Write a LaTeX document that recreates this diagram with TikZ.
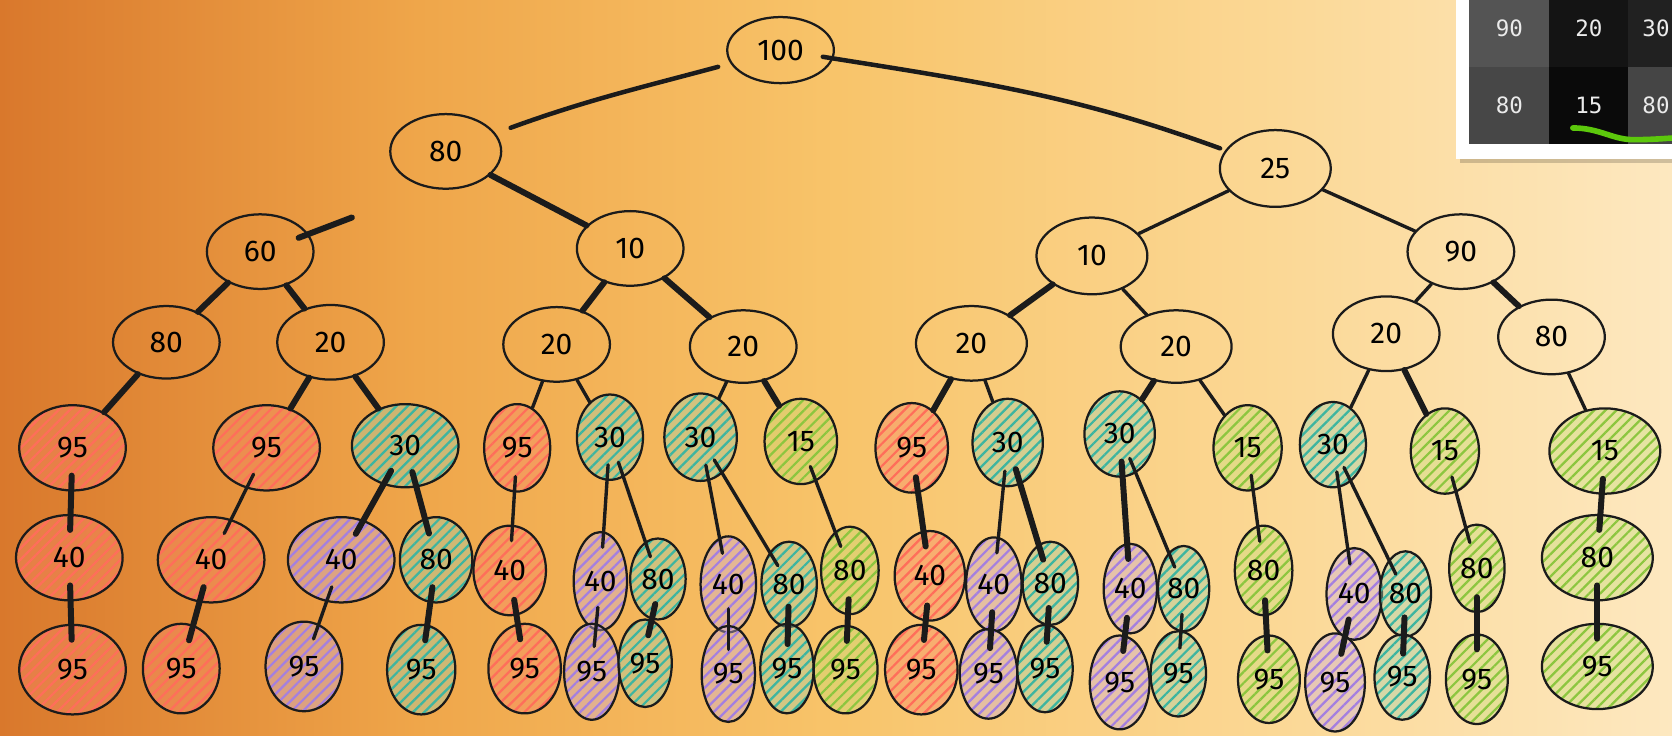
\documentclass[tikz,border=0pt]{standalone}
\usepackage{fontspec}
\newfontfamily\handfont{Fira Sans}
\newfontfamily\cellfont{DejaVu Sans Mono}
\usetikzlibrary{shapes.geometric,patterns.meta}
\definecolor{Ink}{HTML}{1B1B1B}
\definecolor{SkyA}{HTML}{D9782C}
\definecolor{SkyB}{HTML}{EFA64A}
\definecolor{SkyC}{HTML}{F8C46A}
\definecolor{SkyD}{HTML}{FBD793}
\definecolor{SkyE}{HTML}{FDE8C0}
\definecolor{PeachHatch}{HTML}{FF6E5A}
\definecolor{PeachTint}{HTML}{F7876A}
\definecolor{SeaHatch}{HTML}{3DB5A0}
\definecolor{SeaTint}{HTML}{9ED2B0}
\definecolor{LilacHatch}{HTML}{A47FE0}
\definecolor{LilacTint}{HTML}{C9AEDF}
\definecolor{LimeHatch}{HTML}{8CC63F}
\definecolor{LimeTint}{HTML}{C5E07A}
\definecolor{MarkGreen}{HTML}{5CC80C}
% only 25bp--75bp of a shading ends up on the path
\pgfdeclarehorizontalshading{warmsky}{100bp}{color(0bp)=(SkyA); color(25bp)=(SkyA); color(37.5bp)=(SkyB); color(50bp)=(SkyC); color(62.5bp)=(SkyD); color(75bp)=(SkyE); color(100bp)=(SkyE)}

\begin{document}
\begin{tikzpicture}[
		x=0.1mm, y=-0.1mm,
		font=\handfont\fontsize{8}{9}\selectfont,
		plain/.style={ellipse,draw=Ink,line width=0.6pt,inner sep=0pt,text=Ink},
		hatch/.style={plain,preaction={fill=#1Tint,fill opacity=0.4},pattern={Lines[angle=45,distance=2.1pt,line width=0.6pt]},pattern color=#1Hatch},
		edge/.style={draw=Ink,line width=0.9pt,line cap=round},
		heavy/.style={edge,line width=1.6pt},
		deep/.style={shorten <=-1.5mm,shorten >=-1.5mm},
		cell/.style={minimum height=7.3mm,inner sep=0pt,text=white!92!black,font=\cellfont\fontsize{6}{7}\selectfont}
	]
	\useasboundingbox (0,0) rectangle (1568,690);
	\clip (0,0) rectangle (1568,690);
	\shade[shading=warmsky] (0,0) rectangle (1568,690);

	% upper levels, outline only
	\foreach \id/\x/\y/\w/\h/\v in {root/732/47/10/6.2/100,
			b1/418/142/10.4/7/80, b2/1196/158/10.4/7.2/25,
			c1/244/236/10/7/60, c2/591/233/10/7/10, c3/1024/240/10.4/7.2/10, c4/1370/236/10/7/90,
			d1/156/321/10/6.8/80, d2/310/321/10/7/20, d3/522/323/10/7/20, d4/697/325/10/6.8/20,
			d5/911/322/10.4/7/20, d6/1103/325/10.4/6.8/20, d7/1300/313/10/7/20, d8/1455/316/10/7/80}
		\node[plain,minimum width=\w mm,minimum height=\h mm,label=center:\v] (\id) at (\x,\y) {};

	% hatched levels
	\foreach \id/\x/\y/\w/\h/\c/\v in {e1/68/420/10/8/Peach/95, e2/250/420/10/8/Peach/95,
			e3/380/418/10/7.8/Sea/30, e4/485/420/6.2/8.2/Peach/95, e5/572/410/6.2/8/Sea/30,
			e6/657/410/6.8/8.2/Sea/30, e7/751/414/6.8/8/Lime/15, e8/855/420/6.8/8.4/Peach/95,
			e9/945/415/6.6/8.2/Sea/30, e10/1050/407/6.6/8/Sea/30, e11/1170/420/6.4/8/Lime/15,
			e12/1250/417/6.2/8/Sea/30, e13/1355/423/6.4/8/Lime/15, e14/1505/423/10.4/8/Lime/15,
			f1/65/523/10/8/Peach/40, f2/198/525/10/8/Peach/40, f3/320/525/10/8/Lilac/40,
			f4/409/525/6.8/8/Sea/80, f5/478/535/6.8/8.4/Peach/40, f6/563/545/5/9.2/Lilac/40,
			f7/617/543/5.2/7.6/Sea/80, f8/683/548/5.2/9/Lilac/40, f9/740/548/5.2/8/Sea/80,
			f10/797/535/5.4/8.2/Lime/80, f11/872/540/6.6/8.4/Peach/40, f12/932/548/5.2/8.8/Lilac/40,
			f13/985/547/5.2/7.8/Sea/80, f14/1060/552/5/8.4/Lilac/40, f15/1110/552/4.8/8/Sea/80,
			f16/1185/535/5.4/8.4/Lime/80, f17/1270/557/5.2/8.6/Lilac/40, f18/1318/557/4.8/8/Sea/80,
			f19/1385/533/5.2/8.2/Lime/80, f20/1498/523/10.4/8/Lime/80,
			g1/68/628/10/8.4/Peach/95, g2/170/627/7.2/8.4/Peach/95, g3/285/625/7.2/8.4/Lilac/95,
			g4/395/628/6.4/8.4/Sea/95, g5/492/627/6.8/8.4/Peach/95, g6/555/630/5.2/9/Lilac/95,
			g7/605/622/5/8.2/Sea/95, g8/683/632/5/9/Lilac/95, g9/738/627/5/8.4/Sea/95,
			g10/793/628/6/8.2/Lime/95, g11/864/628/6.8/8.4/Peach/95, g12/927/632/5.4/8.4/Lilac/95,
			g13/980/627/5.2/8.2/Sea/95, g14/1050/640/5.6/8.8/Lilac/95, g15/1105/632/5.2/8/Sea/95,
			g16/1190/637/5.8/8.2/Lime/95, g17/1252/640/5.6/9.2/Lilac/95, g18/1315/635/5.2/8/Sea/95,
			g19/1385/637/5.8/8.4/Lime/95, g20/1498/625/10.4/8/Lime/95}
		\node[hatch=\c,minimum width=\w mm,minimum height=\h mm,label=center:\v] (\id) at (\x,\y) {};

	% links
	\draw[edge,line width=1.2pt,shorten <=1.2mm,shorten >=1.5mm] (root) to[out=195,in=20] (b1);
	\draw[edge,line width=1.2pt,shorten <=-1mm,shorten >=0.5mm] (root) to[out=-9,in=160] (b2);
	\coordinate (c1tip) at (330,204);
	\draw[heavy,shorten <=-1mm] (c1.20) -- (c1tip);
	\foreach \p/\c in {b1/c2, c2/d3, c2/d4, c3/d5, c4/d8, c1/d1, c1/d2, d1/e1, d2/e2, d2/e3,
			d4/e7, d5/e8, d6/e10, d7/e13}
		\draw[heavy] (\p) -- (\c);
	\foreach \p/\c in {b2/c3, b2/c4, c3/d6, c4/d7, d3/e4, d3/e5, d4/e6, d5/e9, d6/e11, d7/e12, d8/e14}
		\draw[edge] (\p) -- (\c);
	\foreach \p/\c in {e1/f1, e3/f3, e3/f4, e8/f11, e9/f13, e10/f14, e14/f20,
			f1/g1, f2/g2, f4/g4, f5/g5, f7/g7, f9/g9, f10/g10, f11/g11, f12/g12, f13/g13,
			f14/g14, f16/g16, f17/g17, f18/g18, f19/g19, f20/g20}
		\draw[heavy,deep] (\p) -- (\c);
	\foreach \p/\c in {e2/f2, e4/f5, e5/f6, e5/f7, e6/f8, e6/f9, e7/f10, e9/f12, e10/f15,
			e11/f16, e12/f17, e12/f18, e13/f19, f3/g3, f6/g6, f8/g8, f15/g15}
		\draw[edge,deep] (\p) -- (\c);

	% grid snippet in the corner
	\fill[black,opacity=0.18] (1369,-10) rectangle (1600,153);
	\fill[white] (1365,-10) rectangle (1600,149);
	\node[cell,fill=black!67,minimum width=7.5mm] (p11) at (1415.5,26.5) {90};
	\node[cell,fill=black!92,minimum width=7.4mm] (p12) at (1490,26.5) {20};
	\node[cell,fill=black!87,minimum width=5.2mm] (p13) at (1553,26.5) {30};
	\node[cell,fill=black!72,minimum width=7.5mm,minimum height=7.2mm] (p21) at (1415.5,99) {80};
	\node[cell,fill=black!96,minimum width=7.4mm,minimum height=7.2mm] (p22) at (1490,99) {15};
	\node[cell,fill=black!73,minimum width=5.2mm,minimum height=7.2mm] (p23) at (1553,99) {80};
	\draw[MarkGreen,line width=1.5pt,line cap=round] (1475,120) .. controls (1500,120) and (1512,131) .. (1532,131)
		.. controls (1548,131) and (1560,130) .. (1575,129);
\end{tikzpicture}
\end{document}
